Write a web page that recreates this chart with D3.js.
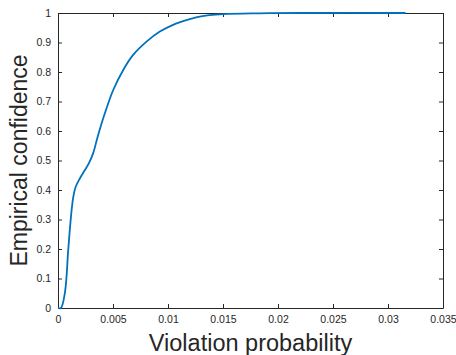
<!DOCTYPE html>
<html>
<head>
<meta charset="utf-8">
<script src="https://cdn.jsdelivr.net/npm/d3@7"></script>
<style>
  body { margin: 0; background: #fff; }
  svg { display: block; font-family: "Liberation Sans", Arial, sans-serif; }
</style>
</head>
<body>
<div id="chart"></div>
<script>
// violation probability (x) vs empirical confidence (y)
var violation = [0, 0.00027, 0.00064, 0.00093, 0.00118, 0.00139, 0.00161, 0.0020, 0.0024, 0.0028,
    0.0032, 0.0036, 0.00426, 0.00502, 0.00593, 0.00683, 0.00805, 0.00926, 0.01046, 0.01198,
    0.01289, 0.0150, 0.0183, 0.022, 0.0316];
var confidence = [0, 0, 0.055, 0.197, 0.31, 0.377, 0.411, 0.44, 0.465, 0.49,
    0.525, 0.58, 0.66, 0.739, 0.807, 0.858, 0.903, 0.937, 0.960, 0.979,
    0.988, 0.996, 0.999, 1.0, 1.0];
var xTicks = [0, 0.005, 0.01, 0.015, 0.02, 0.025, 0.03, 0.035];
var yTicks = [0, 0.1, 0.2, 0.3, 0.4, 0.5, 0.6, 0.7, 0.8, 0.9, 1];

var width = 456, height = 355;
var margin = {top: 13, right: 13, bottom: 47, left: 58};

var svg = d3.select("#chart")
    .append("svg")
    .attr("width", width)
    .attr("height", height);

var x = d3.scaleLinear().domain([0, 0.035]).range([margin.left, width - margin.right]);
var y = d3.scaleLinear().domain([0, 1]).range([height - margin.bottom, margin.top]);

var axisColor = "#262626";

// box with inward ticks on all four sides
svg.append("g")
    .attr("transform", "translate(0," + y(0) + ")")
    .call(d3.axisBottom(x).tickValues(xTicks).tickSizeInner(-4).tickSizeOuter(0).tickPadding(8)
        .tickFormat(function (d) { return d === 0 ? "0" : d3.format("")(+d.toFixed(3)); }));
svg.append("g")
    .attr("transform", "translate(0," + y(1) + ")")
    .call(d3.axisTop(x).tickValues(xTicks).tickSizeInner(-4).tickSizeOuter(0).tickFormat(""));
svg.append("g")
    .attr("transform", "translate(" + x(0) + ",0)")
    .call(d3.axisLeft(y).tickValues(yTicks).tickSizeInner(-4).tickSizeOuter(0).tickPadding(7)
        .tickFormat(function (d) { return d3.format("")(+d.toFixed(1)); }));
svg.append("g")
    .attr("transform", "translate(" + x(0.035) + ",0)")
    .call(d3.axisRight(y).tickValues(yTicks).tickSizeInner(-4).tickSizeOuter(0).tickFormat(""));

svg.selectAll(".domain").attr("stroke", axisColor);
svg.selectAll(".tick line").attr("stroke", axisColor);
svg.selectAll(".tick text")
    .attr("fill", axisColor)
    .style("font-size", "10.5px")
    .style("font-family", "Liberation Sans, Arial, sans-serif");

// curve
var pts = violation.map(function (v, i) { return [v, confidence[i]]; });
svg.append("path")
    .datum(pts)
    .attr("fill", "none")
    .attr("stroke", "#0072BD")
    .attr("stroke-width", 1.8)
    .attr("d", d3.line()
        .x(function (d) { return x(d[0]); })
        .y(function (d) { return y(d[1]); })
        .curve(d3.curveCatmullRom.alpha(0.5)));

// axis labels
svg.append("text")
    .attr("x", (x(0) + x(0.035)) / 2)
    .attr("y", 351)
    .attr("text-anchor", "middle")
    .attr("fill", axisColor)
    .style("font-size", "23.5px")
    .text("Violation probability");

svg.append("text")
    .attr("transform", "translate(27," + (y(0.5)) + ") rotate(-90)")
    .attr("text-anchor", "middle")
    .attr("fill", axisColor)
    .style("font-size", "23px")
    .text("Empirical confidence");
</script>
</body>
</html>
